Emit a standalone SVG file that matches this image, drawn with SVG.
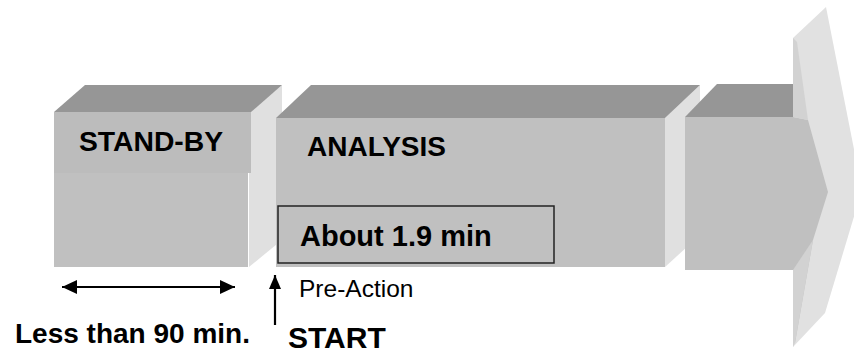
<svg xmlns="http://www.w3.org/2000/svg" width="854" height="354" viewBox="0 0 854 354">
<defs>
<style>
.top{fill:#969696}
.front{fill:#c0c0c0}
.side{fill:#e0e0e0}
.hdr{fill:#bcbcbc}
.b{font-family:"Liberation Sans",Arial,sans-serif;font-weight:bold;fill:#000}
.r{font-family:"Liberation Sans",Arial,sans-serif;fill:#000}
.ln{stroke:#000;stroke-width:2.2;fill:none}
</style>
<marker id="ah" viewBox="0 0 15 14" refX="15" refY="7" markerWidth="15" markerHeight="14" orient="auto-start-reverse" markerUnits="userSpaceOnUse">
<path d="M0,0 L15,7 L0,14 Z" fill="#000"/>
</marker>
<marker id="ahu" viewBox="0 0 14 12" refX="14" refY="6" markerWidth="14" markerHeight="12" orient="auto" markerUnits="userSpaceOnUse">
<path d="M0,0 L14,6 L0,12 Z" fill="#000"/>
</marker>
</defs>
<rect width="854" height="354" fill="#fff"/>
<g id="standby">
<polygon class="side" points="249,112 282,85 282,240 249,267"/>
<polygon class="top" points="54,112 85,85 282,85 251,112"/>
<rect class="front" x="54" y="112" width="194" height="155"/>
<rect class="hdr" x="54" y="112" width="197" height="61"/>
<text class="b" x="79" y="151" font-size="28.3">STAND-BY</text>
</g>
<g id="analysis">
<polygon class="side" points="665,118 700,85 700,235 665,267"/>
<polygon class="top" points="276,118 311,85 700,85 665,118"/>
<rect class="front" x="276" y="118" width="389" height="149"/>
<text class="b" x="307" y="156" font-size="28">ANALYSIS</text>
<rect x="278" y="206" width="276" height="57" fill="none" stroke="#222" stroke-width="1.5"/>
<text class="b" x="300" y="246" font-size="29">About 1.9 min</text>
</g>
<g id="next">
<polygon class="top" points="685,117 717,84 800,84 800,117"/>
<rect class="front" x="685" y="117" width="115" height="153"/>
<polygon fill="#e1e1e1" points="793,38 826,7 862,190 825,313 793,347"/>
<polygon fill="#c0c0c0" points="793,117 808,120 828,192 813,240 795,343 793,343"/>
<polygon fill="#d2d2d2" points="793,38 797,42 808,120 793,117"/>
<polygon fill="#d2d2d2" points="793,270 813,240 795,343 793,347"/>
</g>
<g id="connectors">
<line class="ln" x1="62" y1="287" x2="235" y2="287" marker-start="url(#ah)" marker-end="url(#ah)"/>
<line class="ln" x1="275" y1="325" x2="275" y2="275" marker-end="url(#ahu)"/>
</g>
<g id="labels">
<text class="r" x="299" y="297" font-size="24.5">Pre-Action</text>
<text class="b" x="15" y="343" font-size="28">Less than 90 min.</text>
<text class="b" x="288" y="348" font-size="30">START</text>
</g>
</svg>
